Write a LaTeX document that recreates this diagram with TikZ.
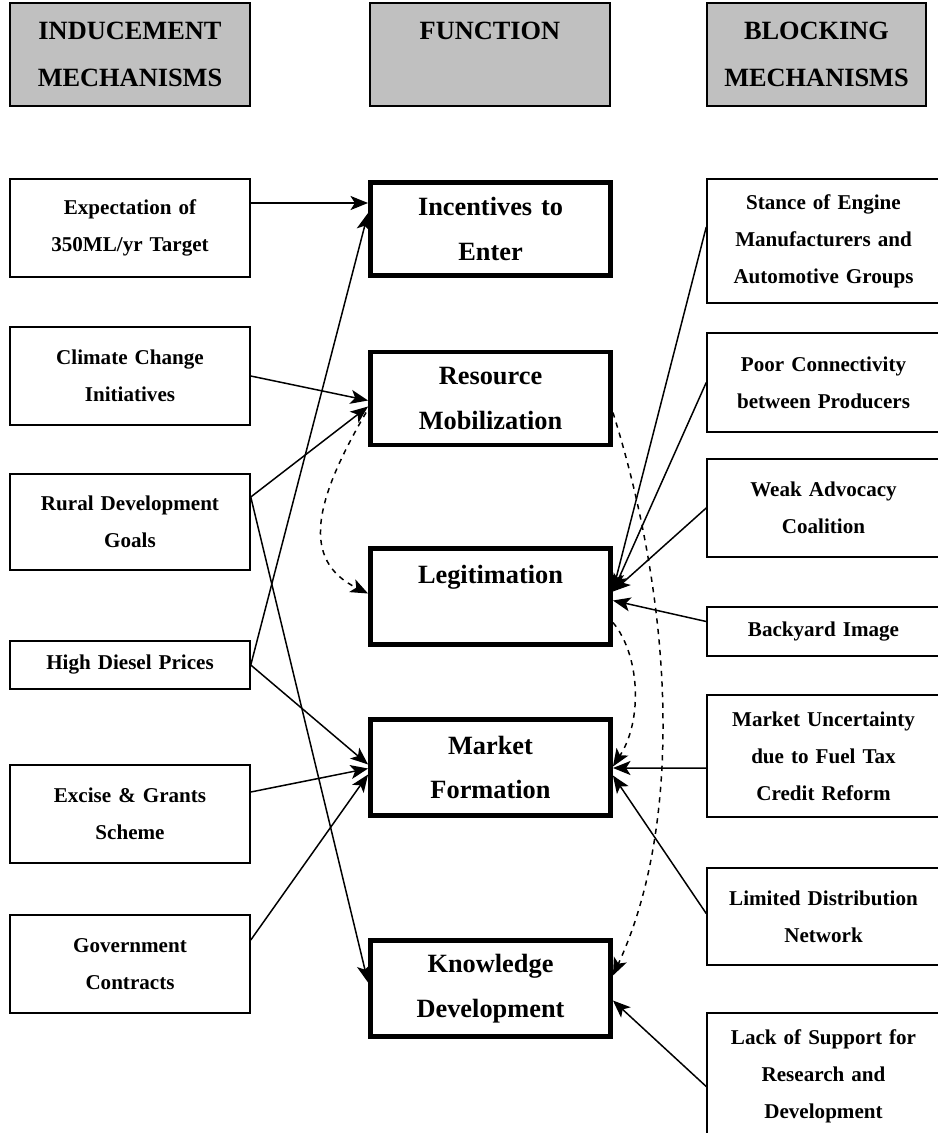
\documentclass[tikz,border=0pt]{standalone}
\usepackage{fontspec}
\setmainfont{Liberation Serif}
\usetikzlibrary{calc}
\usetikzlibrary{arrows.meta}
\definecolor{headgray}{HTML}{C0C0C0}
\tikzset{
	boxnode/.style = {
		align=center,
		inner sep=0pt,
		text centered,
		rectangle,
		draw=black,
		line width=0.9pt,
		font=\bfseries\fontsize{12}{21}\selectfont
	},
	node_head/.style = {
		boxnode,
		fill=headgray,
		font=\bfseries\fontsize{15}{26.5}\selectfont,
		minimum height=2.06cm
	},
	node_ind/.style = {
		boxnode,
		minimum width=4.8cm,
		text width=4.6cm
	},
	node_fun/.style = {
		boxnode,
		line width=2.8pt,
		font=\bfseries\fontsize{15}{25.5}\selectfont,
		minimum width=4.8cm,
		text width=4.6cm
	},
	node_blk/.style = {
		boxnode,
		minimum width=4.66cm,
		text width=4.5cm
	},
	link/.style = {
		line width=0.85pt,
		-{Stealth[length=10pt,width=8pt,inset=2.5pt]}
	},
	link_d/.style = {
		link,
		dashed
	}
}

\begin{document}
\begin{tikzpicture}[x=0.02cm,y=-0.02cm]
\useasboundingbox (0,0) rectangle (937,1133);
\node [node_head, minimum width=4.8cm] (h_ind) at (130,54.5) {INDUCEMENT\\MECHANISMS};
\node [node_head, minimum width=4.8cm] (h_fun) at (490,54.5) {FUNCTION\\~};
\node [node_head, minimum width=4.38cm] (h_blk) at (816.5,54.5) {BLOCKING\\MECHANISMS};

\node [node_ind, minimum height=1.96cm] (exp) at (130,228) {Expectation of\\350ML/yr Target};
\node [node_ind, minimum height=1.96cm] (clim) at (130,376) {Climate Change\\Initiatives};
\node [node_ind, minimum height=1.92cm] (rural) at (130,522) {Rural Development\\Goals};
\node [node_ind, minimum height=0.96cm] (diesel) at (130,665) {High Diesel Prices};
\node [node_ind, minimum height=1.96cm] (excise) at (130,814) {Excise \& Grants\\Scheme};
\node [node_ind, minimum height=1.96cm] (gov) at (130,964) {Government\\Contracts};

\node [node_fun, minimum height=1.86cm] (inc) at (490.5,229) {Incentives to\\Enter};
\node [node_fun, minimum height=1.86cm] (res) at (490.5,398.5) {Resource\\Mobilization};
\node [node_fun, minimum height=1.92cm] (leg) at (490.5,596.5) {Legitimation\\~};
\node [node_fun, minimum height=1.92cm] (mkt) at (490.5,767.5) {Market\\Formation};
\node [node_fun, minimum height=1.92cm] (know) at (490.5,988.5) {Knowledge\\Development};

\node [node_blk, minimum height=2.48cm] (stance) at (823.5,241) {Stance of Engine\\Manufacturers and\\Automotive Groups};
\node [node_blk, minimum height=1.98cm] (poor) at (823.5,382.5) {Poor Connectivity\\between Producers};
\node [node_blk, minimum height=1.96cm] (weak) at (823.5,508) {Weak Advocacy\\Coalition};
\node [node_blk, minimum height=0.98cm] (back) at (823.5,631.5) {Backyard Image};
\node [node_blk, minimum height=2.44cm] (unc) at (823.5,756) {Market Uncertainty\\due to Fuel Tax\\Credit Reform};
\node [node_blk, minimum height=1.94cm] (lim) at (823.5,916.5) {Limited Distribution\\Network};
\node [node_blk, minimum height=2.54cm] (lack) at (823.5,1076.5) {Lack of Support for\\Research and\\Development};

\draw [link] ($(exp.east)+(0,-25)$) -- ($(inc.west)+(0,-26)$);
\draw [link] (diesel.east) -- ($(inc.west)+(0,-16)$);
\draw [link] (clim.east) -- ($(res.west)+(0,2)$);
\draw [link] ($(rural.east)+(0,-25)$) -- ($(res.west)+(0,8)$);
\draw [link] ($(rural.east)+(0,-25)$) -- ($(know.west)+(0,-6)$);
\draw [link] (diesel.east) -- ($(mkt.west)+(0,-3)$);
\draw [link] ($(excise.east)+(0,-22)$) -- ($(mkt.west)+(0,1)$);
\draw [link] ($(gov.east)+(0,-24)$) -- ($(mkt.west)+(0,7)$);

\draw [link] ($(stance.west)+(0,-14)$) -- ($(leg.east)+(0,-6)$);
\draw [link] (poor.west) -- ($(leg.east)+(0,-5)$);
\draw [link] (weak.west) -- ($(leg.east)+(0,-5)$);
\draw [link] ($(back.west)+(0,-10)$) -- ($(leg.east)+(0,4)$);
\draw [link] ($(unc.west)+(0,12)$) -- ($(mkt.east)+(0,0.5)$);
\draw [link] ($(lim.west)+(0,-3)$) -- ($(mkt.east)+(0,8)$);
\draw [link] ($(lack.west)+(0,10)$) -- ($(know.east)+(0,12)$);

\draw [link_d] ($(res.west)+(-2,14)$) .. controls (315,500) and (300,560) .. ($(leg.west)+(0,-3)$);
\draw [link_d] ($(res.east)+(0,14)$) .. controls (672,600) and (685,820) .. ($(know.east)+(0,-13)$);
\draw [link_d] ($(leg.east)+(0,26)$) .. controls (640,655) and (643,720) .. ($(mkt.east)+(0,-1)$);
\end{tikzpicture}
\end{document}
